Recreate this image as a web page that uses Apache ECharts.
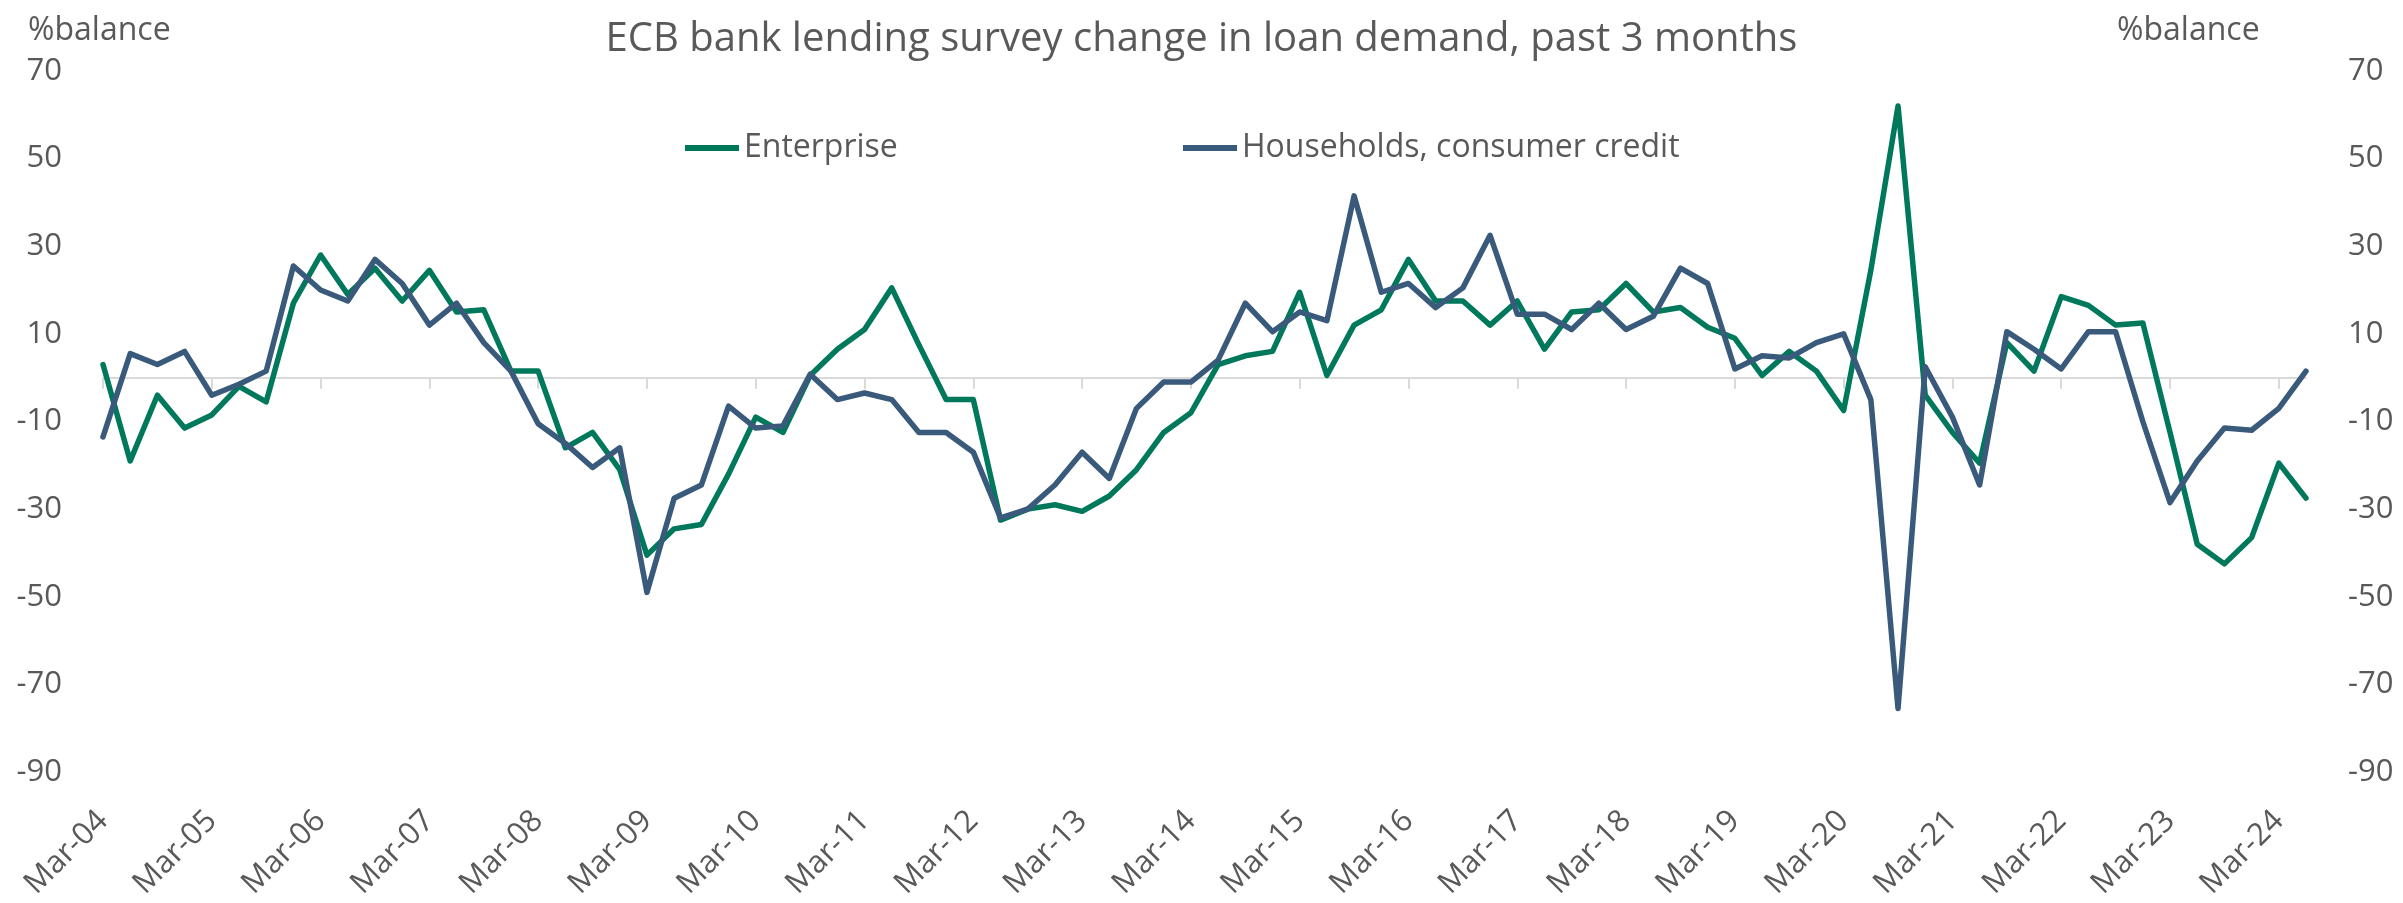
<!DOCTYPE html>
<html>
<head>
<meta charset="utf-8">
<script src="https://cdn.jsdelivr.net/npm/echarts@6/dist/echarts.min.js"></script>
<style>
html,body{margin:0;padding:0;background:#fff;}
#chart{width:2403px;height:903px;}
</style>
</head>
<body>
<div id="chart"></div>
<script>
// ---- data ----
var years = ['04','05','06','07','08','09','10','11','12','13','14','15','16','17','18','19','20','21','22','23','24'];
var months = ['Mar','Jun','Sep','Dec'];
var categories = [];
years.forEach(function (y, yi) {
  months.forEach(function (m, mi) {
    if (yi === years.length - 1 && mi > 1) return; // series ends Jun-24
    categories.push(m + '-' + y);
  });
});

var enterprise = [
  3, -19, -4, -11.5, -8.5, -2, -5.5, 17, 28, 19,
  25, 17.5, 24.5, 15, 15.5, 1.5, 1.5, -16, -12.5, -21,
  -40.5, -34.5, -33.5, -22, -9, -12.5, 0.5, 6.5, 11, 20.5,
  7.5, -5, -5, -32.5, -30, -29, -30.5, -27, -21, -12.5,
  -8, 3, 5, 6, 19.5, 0.5, 12, 15.5, 27, 17.5,
  17.5, 12, 17.5, 6.5, 15, 15.5, 21.5, 15, 16, 11.5,
  9, 0.5, 6, 1.5, -7.5, 24.5, 62, -4, -12.5, -19.5,
  8, 1.5, 18.5, 16.5, 12, 12.5, -12.5, -38, -42.5, -36.5,
  -19.5, -27.5
];

var households = [
  -13.5, 5.5, 3, 6, -4, -1.5, 1.5, 25.5, 20, 17.5,
  27, 21.5, 12, 17, 8, 1.5, -10.5, -15, -20.5, -16,
  -49, -27.5, -24.5, -6.5, -11.5, -11, 0.8, -5, -3.5, -5,
  -12.5, -12.5, -17, -32, -30, -24.5, -17, -23, -7, -1,
  -1, 4, 17, 10.5, 15, 13, 41.5, 19.5, 21.5, 16,
  20.5, 32.5, 14.5, 14.5, 11, 17, 11, 14, 25, 21.5,
  2, 5, 4.5, 8, 10, -5, -75.5, 2.5, -9, -24.5,
  10.5, 6.5, 2, 10.5, 10.5, -10, -28.5, -19, -11.5, -12,
  -7, 1.5
];

var seriesNames = ['Enterprise', 'Households, consumer credit'];
var titleText = 'ECB bank lending survey change in loan demand, past 3 months';
var axisName = '%balance';
var yMin = -90, yMax = 70, yStep = 20;

// ---- chart ----
var FONT = "'Open Sans', 'Noto Sans', sans-serif";
var TXT = '#595959';
var GREEN = '#00785B';
var BLUE = '#3A5A7C';
var GRIDC = '#D9D9D9';

var chart = echarts.init(document.getElementById('chart'), null, {renderer: 'canvas'});

var yAxisBase = function (pos, margin) {
  return {
    type: 'value', position: pos, min: yMin, max: yMax, interval: yStep,
    axisLine: {show: false}, axisTick: {show: false}, splitLine: {show: false},
    axisLabel: {color: TXT, fontSize: 31, fontFamily: FONT, margin: margin}
  };
};

chart.setOption({
  animation: false,
  backgroundColor: '#ffffff',
  textStyle: {fontFamily: FONT},
  title: [
    {text: titleText, left: 'center', top: 20, padding: 0,
     textStyle: {color: TXT, fontSize: 40, fontWeight: 'normal', fontFamily: FONT}},
    {text: axisName, left: 28, top: 15, padding: 0,
     textStyle: {color: TXT, fontSize: 32, fontWeight: 'normal', fontFamily: FONT}},
    {text: axisName, left: 2117, top: 15, padding: 0,
     textStyle: {color: TXT, fontSize: 32, fontWeight: 'normal', fontFamily: FONT}}
  ],
  legend: [
    {data: [seriesNames[0]], left: 685, top: 132, padding: 0, icon: 'rect',
     itemWidth: 54, itemHeight: 6, textStyle: {color: TXT, fontSize: 32, fontFamily: FONT}},
    {data: [seriesNames[1]], left: 1183, top: 132, padding: 0, icon: 'rect',
     itemWidth: 54, itemHeight: 6, textStyle: {color: TXT, fontSize: 32, fontFamily: FONT}}
  ],
  grid: {left: 103, right: 97, top: 71, bottom: 131, containLabel: false},
  xAxis: [
    {
      type: 'category', data: categories, boundaryGap: false, position: 'bottom',
      axisLine: {show: false, onZero: false}, axisTick: {show: false},
      axisLabel: {interval: 3, rotate: 45, margin: 44, color: TXT, fontSize: 31, fontFamily: FONT},
      splitLine: {show: false}
    },
    {
      type: 'category', data: categories, boundaryGap: false, position: 'top',
      axisLine: {show: true, onZero: true, lineStyle: {color: GRIDC, width: 2}},
      axisTick: {show: true, interval: 3, inside: true, length: 11, lineStyle: {color: GRIDC, width: 2}},
      axisLabel: {show: false},
      splitLine: {show: false}
    }
  ],
  yAxis: [yAxisBase('left', 41), yAxisBase('right', 42)],
  series: [
    {name: seriesNames[0], type: 'line', data: enterprise, xAxisIndex: 0, yAxisIndex: 0,
     symbol: 'none', color: GREEN, lineStyle: {width: 5.5, color: GREEN, join: 'round', cap: 'round'}},
    {name: seriesNames[1], type: 'line', data: households, xAxisIndex: 0, yAxisIndex: 0,
     symbol: 'none', color: BLUE, lineStyle: {width: 5.5, color: BLUE, join: 'round', cap: 'round'}}
  ]
});
</script>
</body>
</html>
